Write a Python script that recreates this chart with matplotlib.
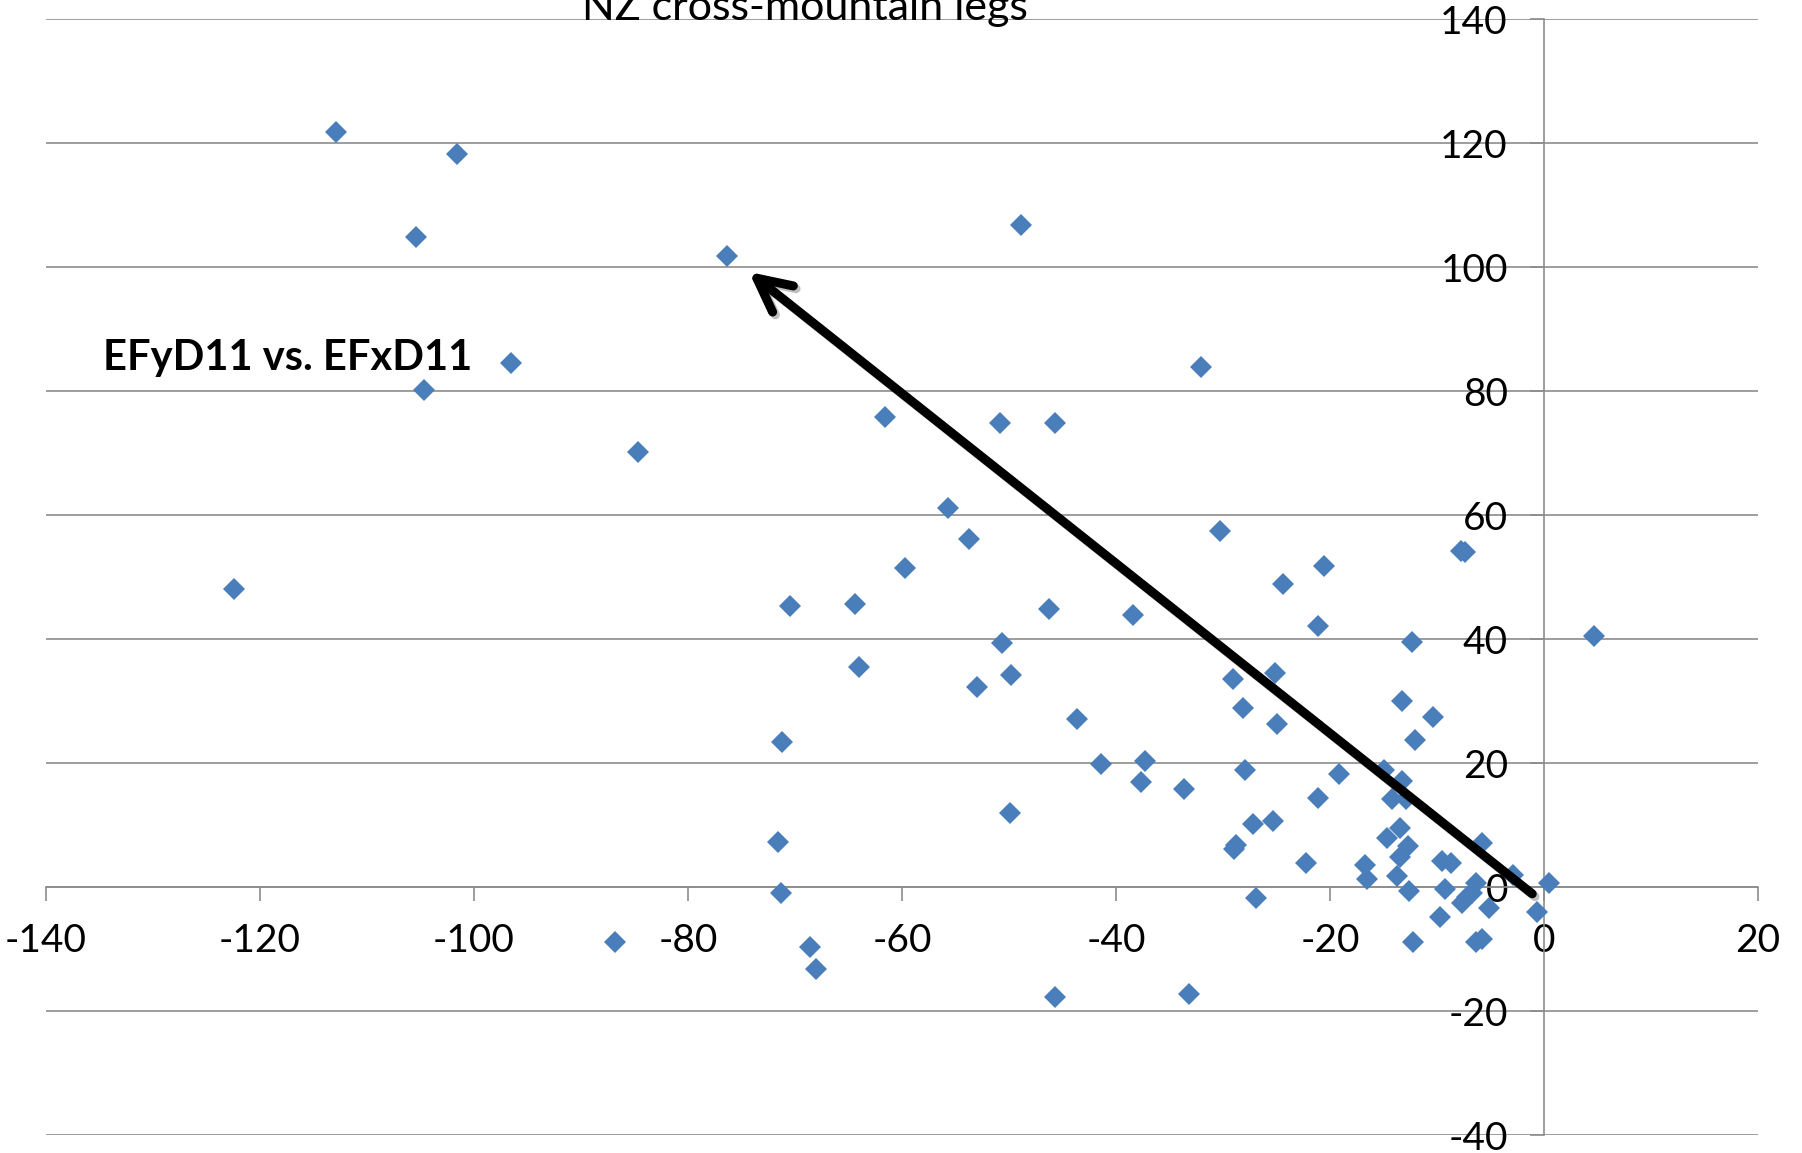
import matplotlib
matplotlib.use('Agg')
import matplotlib.pyplot as plt
import matplotlib.patheffects as pe

# EFx / EFy flux pairs for each leg
efx = [-112.9, -101.6, -105.4, -76.4, -48.9, -96.5, -104.7, -84.7, -61.6, -50.8,
       -45.7, -32.1, -55.7, -53.7, -59.7, -30.3, -122.4, -70.5, -64.4, -46.3,
       -38.4, -24.4, -20.6, -21.1, -7.8, -7.4, 4.7, -12.3, -50.7, -64.0,
       -49.8, -53.0, -29.1, -25.1, -13.3, -28.1, -25.0, -43.6, -10.4, -12.1,
       -71.2, -41.4, -37.3, -27.9, -19.2, -15.0, -37.7, -33.6, -13.3, -21.1,
       -14.2, -12.9, -49.9, -27.2, -25.3, -13.5, -14.7, -12.7, -28.8, -29.0,
       -5.8, -71.6, -13.5, -22.2, -16.7, -9.5, -8.7, -16.5, -13.7, -2.9,
       0.5, -6.4, -12.6, -9.3, -71.3, -6.7, -26.9, -7.2, -7.7, -5.1,
       -0.7, -9.7, -86.8, -68.6, -12.2, -6.4, -5.8, -68.0, -45.7, -33.2]
efy = [121.7, 118.2, 104.8, 101.7, 106.7, 84.6, 80.1, 70.1, 75.8, 74.9,
       74.9, 83.8, 61.2, 56.1, 51.5, 57.4, 48.0, 45.4, 45.7, 44.8,
       43.9, 48.9, 51.7, 42.1, 54.2, 54.1, 40.5, 39.5, 39.4, 35.5,
       34.2, 32.2, 33.5, 34.5, 30.0, 28.9, 26.3, 27.1, 27.4, 23.7,
       23.4, 19.9, 20.3, 18.9, 18.3, 18.9, 16.9, 15.8, 17.1, 14.4,
       14.2, 14.2, 11.9, 10.2, 10.6, 9.5, 7.9, 6.6, 6.7, 6.1,
       7.1, 7.2, 4.8, 3.9, 3.5, 4.2, 3.9, 1.3, 1.8, 1.9,
       0.6, 0.7, -0.6, -0.4, -0.9, -1.0, -1.7, -1.6, -2.6, -3.4,
       -4.1, -4.9, -8.9, -9.7, -8.9, -8.9, -8.4, -13.2, -17.7, -17.3]

x_ticks = list(range(-140, 21, 20))
y_ticks = list(range(-40, 141, 20))

# arrow from the origin cluster up to the upper-left points
arrow_start = (-1.1, -1.1)
arrow_end = (-74.3, 99.2)

plt.rcParams['font.family'] = ['Lato', 'DejaVu Sans']
plt.rcParams['axes.unicode_minus'] = False

fig = plt.figure(figsize=(18.02, 11.53), dpi=100)
ax = fig.add_axes([0.0255, 0.0156, 0.9501, 0.9679])

grid_col = '#8c8c8c'
ax.set_xlim(-140, 20)
ax.set_ylim(-40, 140)
ax.set_xticks(x_ticks)
ax.set_yticks(y_ticks)
ax.yaxis.grid(True, color=grid_col, lw=1.2)
ax.set_axisbelow(True)

for side in ['top', 'right']:
    ax.spines[side].set_visible(False)
ax.spines['left'].set_position(('data', 0))
ax.spines['bottom'].set_position(('data', 0))
for side in ['left', 'bottom']:
    ax.spines[side].set_color(grid_col)
    ax.spines[side].set_linewidth(1.2)

ax.tick_params(axis='both', direction='out', length=10, width=1.2,
               color=grid_col, labelsize=28, pad=16)

ax.plot(efx, efy, linestyle='none', marker='D', markersize=11.5,
        color='#4a7ebb', markeredgewidth=0, zorder=3)

ax.annotate('', xy=arrow_end, xytext=arrow_start,
            arrowprops=dict(arrowstyle='->, head_length=1.0, head_width=0.5',
                            mutation_scale=24, lw=6.5, color='black',
                            shrinkA=0, shrinkB=0,
                            path_effects=[pe.SimpleLineShadow(offset=(2, -2), alpha=0.25),
                                          pe.Normal()]),
            zorder=4)

ax.text(-134.7, 85.3, 'EFyD11 vs. EFxD11', fontsize=30, fontweight='bold',
        ha='left', va='center')

fig.text(805 / 1802, 1 - 20 / 1153, 'NZ cross-mountain legs', fontsize=31,
         ha='center', va='baseline')

fig.savefig('out.png', dpi=100)
